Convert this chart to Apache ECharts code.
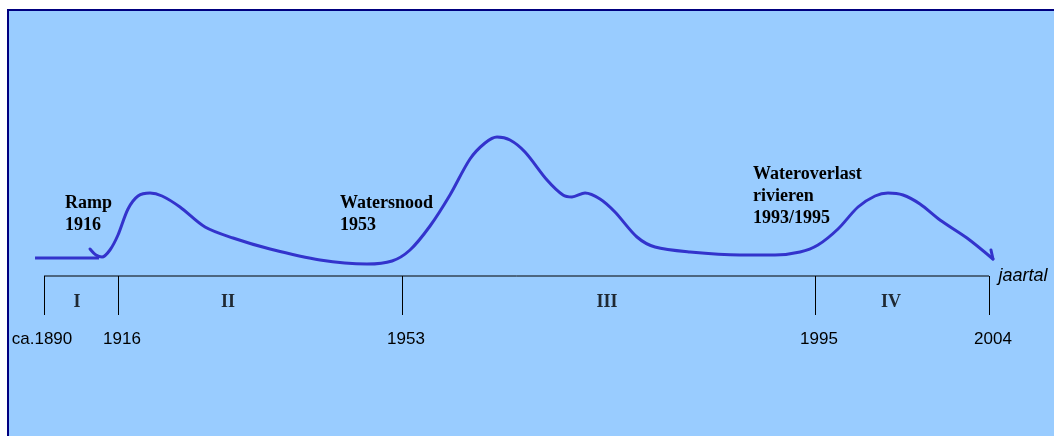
<!DOCTYPE html>
<html>
<head>
<meta charset="utf-8">
<script src="https://cdn.jsdelivr.net/npm/echarts@6/dist/echarts.min.js"></script>
<style>
  html, body { margin: 0; padding: 0; background: #fff; }
  #chart { width: 1054px; height: 436px; }
</style>
</head>
<body>
<div id="chart"></div>
<script>
// timeline: positions along the axis (0 = ca.1890, 100 = 2004)
var tickPos = [0, 7.83, 37.88, 81.59, 100];
var tickLabels = ['ca.1890', '1916', '1953', '1995', '2004'];
var periods = ['I', 'II', 'III', 'IV'];
var periodPos = [3.49, 19.47, 59.58, 89.63];
var timeline = [[0, 0], [100, 0]];

// "level" of attention for water
var startLine = [[-0.95, 9], [5.82, 9]];
var curve = [
  [4.87, 13.5], [5.50, 10.5], [6.14, 9.5], [6.98, 13], [7.83, 20.5], [8.89, 33.5],
  [9.95, 40], [11.22, 41.5], [12.49, 40], [14.39, 34.5], [17.04, 24.5], [20.00, 19],
  [23.92, 13.5], [29.21, 8], [34.18, 6], [36.83, 7.5], [38.73, 13], [40.85, 25],
  [42.96, 40.5], [45.08, 58.5], [46.67, 66.5], [47.94, 69.5], [49.31, 68], [50.90, 62],
  [53.23, 48], [54.92, 40.5], [55.87, 39.5], [57.25, 41.5], [58.84, 38.5], [60.42, 32],
  [62.75, 19.5], [64.66, 14.5], [68.36, 12], [73.65, 10.5], [77.35, 10.5], [80.00, 12],
  [81.90, 15.5], [84.02, 23.5], [86.14, 34.5], [87.94, 40], [89.31, 41.5], [90.90, 40.5],
  [92.70, 36], [94.81, 28], [97.67, 19], [100.42, 8.5]
];
var arrowTip = [[100.42, 8.5], [100.21, 13]];

var notes = [
  { text: 'Ramp\n1916', left: 65, top: 192 },
  { text: 'Watersnood\n1953', left: 340, top: 192 },
  { text: 'Wateroverlast\nrivieren\n1993/1995', left: 753, top: 163 }
];

var chart = echarts.init(document.getElementById('chart'));
var lineColor = '#3333cc';

var option = {
  animation: false,
  backgroundColor: '#fff',
  graphic: [{
    type: 'rect',
    z: -10,
    shape: { x: 8, y: 10, width: 1100, height: 500 },
    style: { fill: '#99ccff', stroke: '#000080', lineWidth: 2 }
  }].concat(notes.map(function (n) {
    return {
      type: 'text',
      left: n.left,
      top: n.top,
      style: {
        text: n.text,
        font: 'bold 18px "Liberation Serif", serif',
        fill: '#000',
        lineHeight: 22
      }
    };
  })),
  grid: { left: 34.55, right: 55.55, top: 76, bottom: 160 },
  xAxis: {
    type: 'value',
    min: -1,
    max: 101,
    name: 'jaartal',
    nameLocation: 'end',
    nameGap: 0,
    nameTextStyle: {
      fontFamily: '"Liberation Sans", Arial, sans-serif',
      fontStyle: 'italic',
      fontSize: 18,
      color: '#000'
    },
    axisLine: { show: false },
    axisTick: { show: true, customValues: tickPos, length: 39, lineStyle: { color: '#000' } },
    axisLabel: {
      customValues: tickPos,
      margin: 55,
      fontFamily: '"Liberation Sans", Arial, sans-serif',
      fontSize: 17,
      color: '#000',
      formatter: function (v) {
        var i = tickPos.indexOf(v);
        if (i < 0) return '';
        return (i === 0 ? '{a|' : '{b|') + tickLabels[i] + '}';
      },
      rich: {
        a: { fontSize: 17, padding: [0, 4, 0, 0] },
        b: { fontSize: 17, padding: [0, 0, 0, 8] }
      }
    },
    splitLine: { show: false }
  },
  yAxis: {
    type: 'value',
    min: 0,
    max: 100,
    show: false
  },
  series: [{
    type: 'line',
    data: timeline,
    clip: false,
    symbol: 'none',
    lineStyle: { color: '#000', width: 1 }
  }, {
    type: 'line',
    data: startLine,
    clip: false,
    symbol: 'none',
    lineStyle: { color: lineColor, width: 3 }
  }, {
    type: 'line',
    data: curve,
    clip: false,
    smooth: 0.3,
    symbol: 'none',
    lineStyle: { color: lineColor, width: 3, cap: 'round', join: 'round' }
  }, {
    type: 'line',
    data: arrowTip,
    clip: false,
    symbol: 'none',
    lineStyle: { color: lineColor, width: 3, cap: 'round' }
  }, {
    type: 'scatter',
    symbolSize: 0,
    clip: false,
    data: periodPos.map(function (p, i) { return [p, -13, periods[i]]; }),
    label: {
      show: true,
      position: 'inside',
      formatter: function (p) { return p.value[2]; },
      fontFamily: '"Liberation Serif", serif',
      fontWeight: 'bold',
      fontSize: 18,
      color: '#000'
    }
  }]
};

chart.setOption(option);
</script>
</body>
</html>
